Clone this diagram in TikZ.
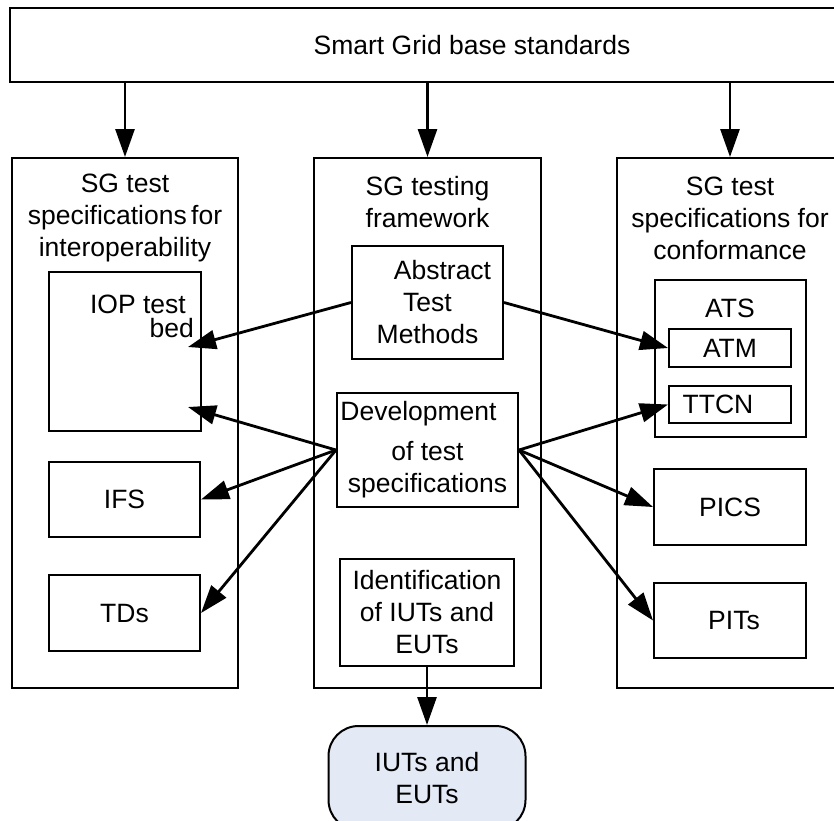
\documentclass[tikz,border=0pt]{standalone}
\usepackage{fontspec}
\setmainfont{Liberation Sans}
\usetikzlibrary{arrows.meta}
\begin{document}
\begin{tikzpicture}[x=1pt,y=-1pt,
  every node/.style={font=\fontsize{26.5}{32}\selectfont, inner sep=0pt, align=center},
  box/.style={draw, line width=2pt, rectangle},
  txt/.style={},
  arr/.style={line width=2.8pt, -{Triangle[length=28pt,width=19pt]}}]
\clip (0,0) rectangle (834,820);
% top
\node[box, minimum width=924pt, minimum height=74pt] (top) at (472,45) {Smart Grid base standards};
% columns
\node[box, minimum width=226pt, minimum height=530pt] (left) at (125,423) {};
\node[box, minimum width=227pt, minimum height=530pt] (mid) at (427.5,423) {};
\node[box, minimum width=226pt, minimum height=530pt] (right) at (730,423) {};
\node[txt] (lt) at (125,218) {SG test\\specifications\,for\\interoperability};
\node[txt] (mt) at (427.5,202) {SG testing\\framework};
\node[txt] (rt) at (730,218) {SG test\\specifications for\\conformance};
% left inner
\node[box, minimum width=152pt, minimum height=159pt] (iop) at (125,351.5) {};
\node[txt, anchor=north east, font=\fontsize{26.5}{24}\selectfont, align=right] (iopt) at (194,295) {IOP test\hspace*{8pt}\\bed};
\coordinate (iopa) at (188,347);
\coordinate (iopb) at (188,407);
\node[box, minimum width=151pt, minimum height=75pt] (ifs) at (124.5,499.5) {IFS};
\node[box, minimum width=151pt, minimum height=76pt] (tds) at (124.5,613) {TDs};
% middle inner
\node[box, minimum width=151pt, minimum height=113pt] (abs) at (427.5,302.5) {\hspace*{30pt}Abstract\\Test\\Methods};
\node[box, minimum width=181pt, minimum height=114pt] (dev) at (427.5,450) {Development\hspace*{18pt}\\[8pt]of test\\specifications};
\node[box, minimum width=174pt, minimum height=107pt] (ident) at (427,612.5) {Identification\\of IUTs and\\EUTs};
\node[draw, line width=2pt, rounded corners=30pt, fill={rgb,255:red,228;green,234;blue,245}, minimum width=197pt, minimum height=104pt] (iut) at (427,778) {IUTs and\\EUTs};
% right inner
\node[box, minimum width=151pt, minimum height=157pt] (ats) at (730.5,358.5) {};
\node[txt] (atst) at (730,308) {ATS};
\node[box, minimum width=122pt, minimum height=38pt] (atm) at (730,348) {ATM};
\node[box, minimum width=122pt, minimum height=37pt] (ttcn) at (730,404.5) {TTCN\hspace*{24pt}};
\node[box, minimum width=152pt, minimum height=76pt] (pics) at (730,507) {PICS};
\node[box, minimum width=152pt, minimum height=75pt] (pits) at (730,620.5) {\hspace*{8pt}PITs};
% arrows
\draw[arr] (top.south -| left.north) -- (left.north);
\draw[arr] (top.south -| mid.north) -- (mid.north);
\draw[arr] (top.south -| right.north) -- (right.north);
\draw[arr] (abs.west) -- (iopa);
\draw[arr] (abs.east) -- (atm.west);
\draw[arr] (dev.west) -- (iopb);
\draw[arr] (dev.west) -- (ifs.east);
\draw[arr] (dev.west) -- (tds.east);
\draw[arr] (dev.east) -- (ttcn.west);
\draw[arr] (dev.east) -- (pics.west);
\draw[arr] (dev.east) -- (pits.west);
\draw[arr] (ident.south) -- (iut.north);
\end{tikzpicture}
\end{document}
